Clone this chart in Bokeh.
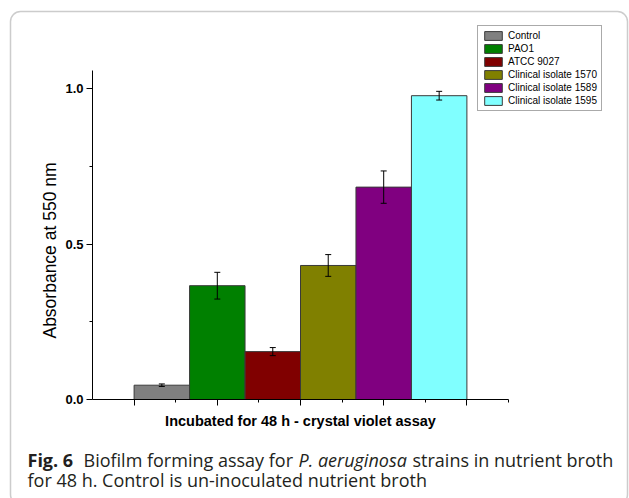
import math
from bokeh.plotting import figure
from bokeh.models import (ColumnDataSource, Range1d, FixedTicker, Whisker, TeeHead,
                          Label, BoxAnnotation)
from bokeh.embed import file_html
from bokeh.resources import INLINE

# ---- data ----
strains = ["Control", "PAO1", "ATCC 9027", "Clinical isolate 1570",
           "Clinical isolate 1589", "Clinical isolate 1595"]
absorbance = [0.046, 0.366, 0.154, 0.431, 0.683, 0.977]
errors = [0.004, 0.043, 0.013, 0.035, 0.052, 0.014]
colors = ["#808080", "#008000", "#800000", "#808000", "#800080", "#80FFFF"]
y_ticks = [0.0, 0.5, 1.0]
y_minor = [0.25, 0.75]
y_tick_labels = ["0.0", "0.5", "1.0"]
x_label = "Incubated for 48 h - crystal violet assay"
y_label = "Absorbance at 550 nm"
cap_bold = "Fig. 6"
cap_1a = "Biofilm forming assay for"
cap_1b = "P. aeruginosa"
cap_1c = "strains in nutrient broth"
cap_2 = "for 48 h. Control is un-inoculated nutrient broth"

# ---- layout (pixels) ----
W, H = 629, 498
AX_L, AX_R = 92, 508      # x extent of axes area
AX_T, AX_B = 70, 399      # y extent of axes area
X0, X1 = -0.5, 4.5
Y0, Y1 = 0.0, 1.058
kx = (AX_R - AX_L) / (X1 - X0)
ky = (AX_B - AX_T) / (Y1 - Y0)
x_range = Range1d(X0 - AX_L / kx, X1 + (W - AX_R) / kx)
y_range = Range1d(Y0 - (H - AX_B) / ky, Y1 + AX_T / ky)

bar_w = 4.0 / len(strains)
xs = [(i + 0.5) * bar_w for i in range(len(strains))]
src = ColumnDataSource(dict(
    x=xs, top=absorbance,
    upper=[a + e for a, e in zip(absorbance, errors)],
    lower=[a - e for a, e in zip(absorbance, errors)],
    color=colors, strain=strains))

p = figure(width=W, height=H, output_backend="svg", toolbar_location=None,
           x_range=x_range, y_range=y_range, title=None,
           min_border=0, min_border_left=0, min_border_right=0,
           min_border_top=0, min_border_bottom=0)
p.outline_line_color = None
p.grid.visible = False
p.background_fill_color = "white"
p.border_fill_color = "white"

p.vbar(x="x", top="top", bottom=0, width=bar_w, source=src,
       fill_color="color", line_color="#3a3a3a", line_width=1,
       legend_field="strain")

wh = Whisker(base="x", upper="upper", lower="lower", source=src,
             line_color="black", line_width=1, level="annotation",
             upper_head=TeeHead(size=6, line_color="black", line_width=1),
             lower_head=TeeHead(size=6, line_color="black", line_width=1))
p.add_layout(wh)

# y axis
ya = p.yaxis[0]
ya.fixed_location = X0
ya.bounds = (Y0, Y1)
ya.ticker = FixedTicker(ticks=y_ticks, minor_ticks=y_minor)
ya.major_label_overrides = dict(zip(y_ticks, y_tick_labels))
ya.major_tick_out = 6
ya.major_tick_in = 0
ya.minor_tick_out = 3
ya.minor_tick_in = 0
ya.major_label_standoff = 3
ya.major_label_text_font = "Liberation Sans"
ya.major_label_text_font_style = "bold"
ya.major_label_text_font_size = "13px"
ya.major_label_text_color = "black"
ya.axis_line_color = "black"
ya.major_tick_line_color = "black"
ya.minor_tick_line_color = "black"

# x axis
xa = p.xaxis[0]
xa.fixed_location = Y0
xa.bounds = (X0, X1)
xt = [0, 1, 2, 3, 4]
xa.ticker = FixedTicker(ticks=xt, minor_ticks=[t + 0.5 for t in xt])
xa.major_label_overrides = {t: "" for t in xt}
xa.major_tick_out = 6
xa.major_tick_in = 0
xa.minor_tick_out = 3
xa.minor_tick_in = 0
xa.axis_line_color = "black"
xa.major_tick_line_color = "black"
xa.minor_tick_line_color = "black"
xa.axis_label = x_label
xa.axis_label_text_font = "Liberation Sans"
xa.axis_label_text_font_style = "bold"
xa.axis_label_text_font_size = "14.5px"
xa.axis_label_text_color = "black"
xa.axis_label_standoff = 7

# y label (centered on the 0..1 range)
p.add_layout(Label(x=49, y=H - 250, x_units="screen", y_units="screen",
                   text=y_label, angle=math.pi / 2, text_align="center",
                   text_baseline="middle", text_font="Liberation Sans",
                   text_font_size="17.5px", text_color="black"))

# legend
lg = p.legend[0]
lg.location = (477, H - 111)
lg.label_text_font = "Liberation Sans"
lg.label_text_font_size = "10px"
lg.label_text_color = "black"
lg.glyph_width = 22
lg.glyph_height = 11
lg.label_height = 11
lg.spacing = 2
lg.padding = 4
lg.margin = 0
lg.label_standoff = 4
lg.border_line_color = "#555555"
lg.border_line_width = 1
lg.background_fill_alpha = 1

# caption
cap_font = "Open Sans"
cap_color = "#231f20"
def cap(x, y, text, style="normal"):
    p.add_layout(Label(x=x, y=H - y, x_units="screen", y_units="screen", text=text,
                       text_font=cap_font, text_font_size="18px",
                       text_font_style=style, text_color=cap_color,
                       text_baseline="alphabetic", text_align="left"))

cap(27, 459, cap_bold, "bold")
cap(83, 459, cap_1a)
cap(298, 459, cap_1b, "italic")
cap(412, 459, cap_1c)
cap(27, 479, cap_2)

# rounded outer frame
p.add_layout(BoxAnnotation(
    left=10, right=627, top=H - 11, bottom=H - 504,
    left_units="screen", right_units="screen",
    top_units="screen", bottom_units="screen",
    fill_alpha=0, line_color="#555555", line_width=1.5,
    border_radius=10, level="overlay"))

open("out.html", "w").write(file_html(p, INLINE))
